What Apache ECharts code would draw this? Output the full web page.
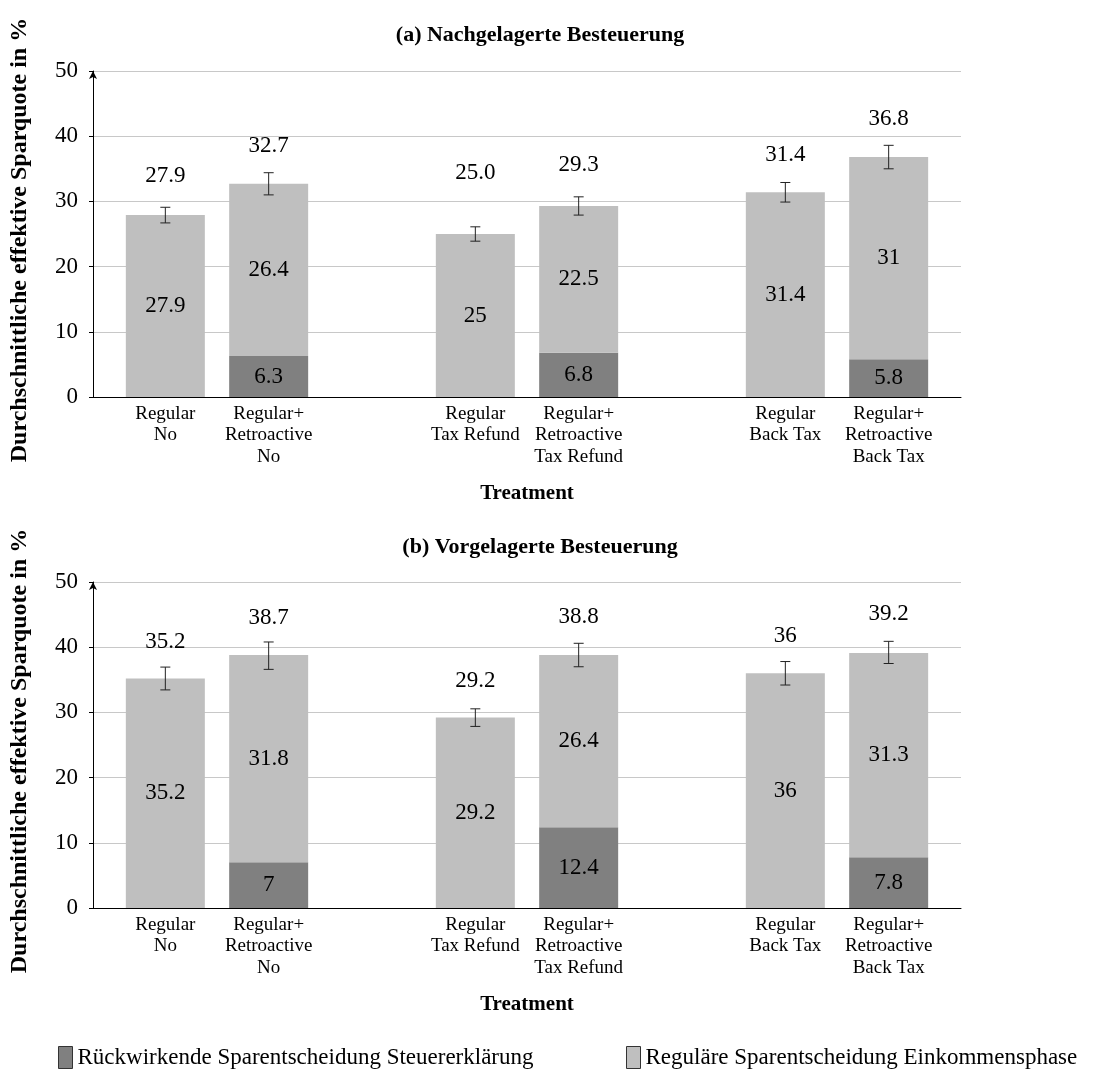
<!DOCTYPE html>
<html>
<head>
<meta charset="utf-8">
<title>Durchschnittliche effektive Sparquote</title>
<script src="https://cdn.jsdelivr.net/npm/echarts@6/dist/echarts.min.js"></script>
<style>
  html, body { margin: 0; padding: 0; background: #fff; }
  #chart { width: 1093px; height: 1075px; }
</style>
</head>
<body>
<div id="chart"></div>
<script>
// ---- data ----
const treatments = [
  'Regular\nNo', 'Regular+\nRetroactive\nNo',
  'Regular\nTax Refund', 'Regular+\nRetroactive\nTax Refund',
  'Regular\nBack Tax', 'Regular+\nRetroactive\nBack Tax'
];
// slot of each treatment on the x scale (pairs separated by an empty slot)
const slots = [0, 1, 3, 4, 6, 7];

// (a) Nachgelagerte Besteuerung
const retroA   = [0, 6.3, 0, 6.8, 0, 5.8];
const regularA = [27.9, 26.4, 25, 22.5, 31.4, 31];
const totalA   = [27.9, 32.7, 25.0, 29.3, 31.4, 36.8];
const errA     = [1.2, 1.7, 1.1, 1.4, 1.5, 1.8];

// (b) Vorgelagerte Besteuerung
const retroB   = [0, 7, 0, 12.4, 0, 7.8];
const regularB = [35.2, 31.8, 29.2, 26.4, 36, 31.3];
const totalB   = [35.2, 38.7, 29.2, 38.8, 36, 39.2];
const errB     = [1.75, 2.1, 1.35, 1.8, 1.8, 1.7];

const yTicks = [0, 10, 20, 30, 40, 50];

// ---- style ----
const SERIF = "'Liberation Serif', 'Times New Roman', serif";
const RETRO_NAME = 'Rückwirkende Sparentscheidung Steuererklärung';
const REG_NAME = 'Reguläre Sparentscheidung Einkommensphase';
const DARK = '#808080';
const LIGHT = '#bfbfbf';
const BAR_W = 79;
// distance (px) from the top of each error bar to the centre of its total label
const totalGapA = [31, 27, 54, 32, 28, 26];
const totalGapB = [25, 24, 28, 26, 26, 27];

const chart = echarts.init(document.getElementById('chart'));

function segmentSeries(name, color, idx, lows, values) {
  return {
    type: 'custom',
    name: name,
    xAxisIndex: idx,
    yAxisIndex: idx,
    itemStyle: { color: color },
    data: slots.map((x, i) => [x, lows[i], lows[i] + values[i], values[i]]),
    encode: { x: 0, y: [1, 2] },
    renderItem: function (params, api) {
      const x = api.value(0), lo = api.value(1), hi = api.value(2), v = api.value(3);
      if (!(v > 0)) return null;
      const p0 = api.coord([x, lo]);
      const p1 = api.coord([x, hi]);
      return {
        type: 'group',
        children: [
          { type: 'rect',
            shape: { x: p0[0] - BAR_W / 2, y: p1[1], width: BAR_W, height: p0[1] - p1[1] },
            style: { fill: color } },
          { type: 'text', x: p0[0], y: (p0[1] + p1[1]) / 2,
            style: { text: String(v), fill: '#000', font: '23px ' + SERIF,
                     align: 'center', verticalAlign: 'middle' } }
        ]
      };
    }
  };
}

function errorSeries(idx, totals, errs, gaps, fmt) {
  return {
    type: 'custom',
    name: 'err' + idx,
    xAxisIndex: idx,
    yAxisIndex: idx,
    data: slots.map((x, i) => [x, totals[i], errs[i], i]),
    encode: { x: 0, y: 1 },
    z: 5,
    renderItem: function (params, api) {
      const x = api.value(0), t = api.value(1), e = api.value(2), i = api.value(3);
      const top = api.coord([x, t + e]);
      const bot = api.coord([x, t - e]);
      const cap = 5;
      const ls = { stroke: '#222', lineWidth: 1 };
      return {
        type: 'group',
        children: [
          { type: 'line', shape: { x1: top[0], y1: top[1], x2: bot[0], y2: bot[1] }, style: ls },
          { type: 'line', shape: { x1: top[0] - cap, y1: top[1], x2: top[0] + cap, y2: top[1] }, style: ls },
          { type: 'line', shape: { x1: bot[0] - cap, y1: bot[1], x2: bot[0] + cap, y2: bot[1] }, style: ls },
          { type: 'text', x: top[0], y: top[1] - gaps[i],
            style: { text: fmt(t), fill: '#000', font: '23px ' + SERIF,
                     align: 'center', verticalAlign: 'middle' } }
        ]
      };
    }
  };
}

function xAxisFor(idx) {
  return {
    type: 'value', gridIndex: idx, min: -0.7, max: 7.7,
    axisLine: { show: true, onZero: false, lineStyle: { color: '#000', width: 1 } },
    axisTick: { show: false },
    splitLine: { show: false },
    axisLabel: {
      customValues: slots,
      formatter: (v) => treatments[slots.indexOf(v)] || '',
      fontFamily: SERIF, fontSize: 19, lineHeight: 21.5, color: '#000', margin: 6
    },
    name: 'Treatment', nameLocation: 'middle', nameGap: 86,
    nameTextStyle: { fontFamily: SERIF, fontWeight: 'bold', fontSize: 21, color: '#000' }
  };
}

function yAxisFor(idx) {
  return {
    type: 'value', gridIndex: idx, min: yTicks[0], max: yTicks[yTicks.length - 1], interval: 10,
    axisLine: { show: true, onZero: false, lineStyle: { color: '#000', width: 1 },
                symbol: ['none', 'arrow'], symbolSize: [6, 8] },
    axisTick: { show: true, length: 4, lineStyle: { color: '#000' } },
    axisLabel: { fontFamily: SERIF, fontSize: 23, color: '#000', margin: 15 },
    splitLine: { lineStyle: { color: '#c8c8c8', width: 1 } },
    name: 'Durchschnittliche effektive Sparquote in %',
    nameLocation: 'middle', nameGap: 61,
    nameTextStyle: { fontFamily: SERIF, fontWeight: 'bold', fontSize: 24, color: '#000',
                     padding: [0, 12, 0, 0] }
  };
}

const legendBase = {
  orient: 'horizontal', top: 1046, padding: 0,
  itemWidth: 14, itemHeight: 22, itemGap: 10,
  itemStyle: { borderColor: '#333', borderWidth: 1 },
  textStyle: { fontFamily: SERIF, fontSize: 23, color: '#000', padding: [3, 0, 0, 0] },
  selectedMode: false
};

chart.setOption({
  backgroundColor: '#fff',
  animation: false,
  title: [
    { text: '(a) Nachgelagerte Besteuerung', left: 540, top: 24, textAlign: 'center', padding: 0,
      textStyle: { fontFamily: SERIF, fontWeight: 'bold', fontSize: 22, color: '#000' } },
    { text: '(b) Vorgelagerte Besteuerung', left: 540, top: 536, textAlign: 'center', padding: 0,
      textStyle: { fontFamily: SERIF, fontWeight: 'bold', fontSize: 22, color: '#000' } }
  ],
  grid: [
    { left: 93, width: 868, top: 71, height: 326 },
    { left: 93, width: 868, top: 582, height: 326 }
  ],
  xAxis: [xAxisFor(0), xAxisFor(1)],
  yAxis: [yAxisFor(0), yAxisFor(1)],
  legend: [
    Object.assign({}, legendBase, { left: 58, data: [{ name: RETRO_NAME, icon: 'rect' }] }),
    Object.assign({}, legendBase, { left: 626, data: [{ name: REG_NAME, icon: 'rect' }] })
  ],
  series: [
    segmentSeries(RETRO_NAME, DARK, 0, [0, 0, 0, 0, 0, 0], retroA),
    segmentSeries(REG_NAME, LIGHT, 0, retroA, regularA),
    errorSeries(0, totalA, errA, totalGapA, (v) => v.toFixed(1)),
    segmentSeries(RETRO_NAME, DARK, 1, [0, 0, 0, 0, 0, 0], retroB),
    segmentSeries(REG_NAME, LIGHT, 1, retroB, regularB),
    errorSeries(1, totalB, errB, totalGapB, (v) => String(v))
  ]
});
</script>
</body>
</html>
